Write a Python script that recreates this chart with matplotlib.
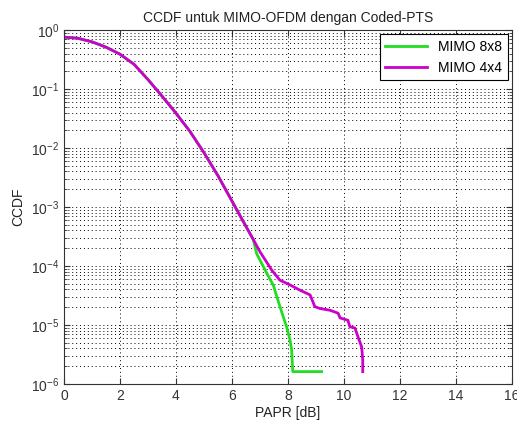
import matplotlib
matplotlib.use("Agg")
import matplotlib.pyplot as plt
from matplotlib.ticker import LogLocator, NullFormatter, FixedLocator

plt.rcParams['font.family'] = ['Liberation Sans', 'DejaVu Sans']

# MIMO 4x4 (magenta) : PAPR [dB] and log10(CCDF)
papr_4x4 = [0.0, 0.5, 1.0, 1.5, 2.0, 2.5, 3.0, 3.5, 4.0, 4.5, 5.0, 5.5, 6.0, 6.5,
            6.76, 7.0, 7.11, 7.42, 7.71, 8.07, 8.43, 8.79, 8.96, 9.14, 9.5,
            9.79, 9.86, 10.14, 10.21, 10.39, 10.5, 10.63, 10.67, 10.67]
logccdf_4x4 = [-0.12, -0.14, -0.20, -0.29, -0.41, -0.58, -0.84, -1.12, -1.41, -1.72,
               -2.08, -2.47, -2.90, -3.33, -3.55, -3.76, -3.84, -4.07, -4.24, -4.32,
               -4.41, -4.49, -4.69, -4.72, -4.75, -4.80, -4.88, -4.92, -5.03, -5.05,
               -5.2, -5.37, -5.59, -5.79]

# MIMO 8x8 (green)
papr_8x8 = [0.0, 0.5, 1.0, 1.5, 2.0, 2.5, 3.0, 3.5, 4.0, 4.5, 5.0, 5.5, 6.0, 6.5,
            6.76, 6.88, 7.24, 7.48, 7.6, 7.83, 7.95, 8.07, 8.13, 8.17, 9.2]
logccdf_8x8 = [-0.12, -0.14, -0.20, -0.29, -0.41, -0.58, -0.84, -1.12, -1.41, -1.72,
               -2.08, -2.47, -2.90, -3.33, -3.55, -3.79, -4.12, -4.33, -4.52, -4.86,
               -5.03, -5.25, -5.42, -5.79, -5.79]

ccdf_4x4 = [10 ** v for v in logccdf_4x4]
ccdf_8x8 = [10 ** v for v in logccdf_8x8]

fig = plt.figure(figsize=(5.17, 4.23), dpi=100)
ax = fig.add_axes([0.1238, 0.0922, 0.8665, 0.8368])

ax.semilogy(papr_8x8, ccdf_8x8, color='#22dd22', lw=2, label='MIMO 8x8')
ax.semilogy(papr_4x4, ccdf_4x4, color='#cc00cc', lw=2, label='MIMO 4x4')

ax.set_xlim(0, 16)
ax.set_ylim(1e-6, 1)
ax.xaxis.set_major_locator(FixedLocator([0, 2, 4, 6, 8, 10, 12, 14, 16]))
ax.yaxis.set_major_locator(LogLocator(base=10, numticks=10))
ax.yaxis.set_minor_locator(LogLocator(base=10, subs=range(2, 10), numticks=20))
ax.yaxis.set_minor_formatter(NullFormatter())

ax.grid(True, which='major', axis='both', color='black', linestyle=(0, (1, 3)), linewidth=0.7)
ax.grid(True, which='minor', axis='y', color='black', linestyle=(0, (1, 3)), linewidth=0.7)

ax.tick_params(which='both', direction='in', top=True, right=True, labelsize=10, colors='#333333')
ax.tick_params(which='major', length=4)
ax.tick_params(which='minor', length=2)
for s in ax.spines.values():
    s.set_color('#333333')

ax.set_title('CCDF untuk MIMO-OFDM dengan Coded-PTS', fontsize=10, color='#222222')
ax.set_xlabel('PAPR [dB]', fontsize=10, color='#222222', labelpad=2)
ax.set_ylabel('CCDF', fontsize=10, color='#222222', labelpad=4)

leg = ax.legend(loc='upper right', fontsize=10, fancybox=False, framealpha=1,
                edgecolor='black', handlelength=3.0, borderaxespad=0.3)
leg.get_frame().set_linewidth(0.8)

fig.savefig('out.png', dpi=100)
